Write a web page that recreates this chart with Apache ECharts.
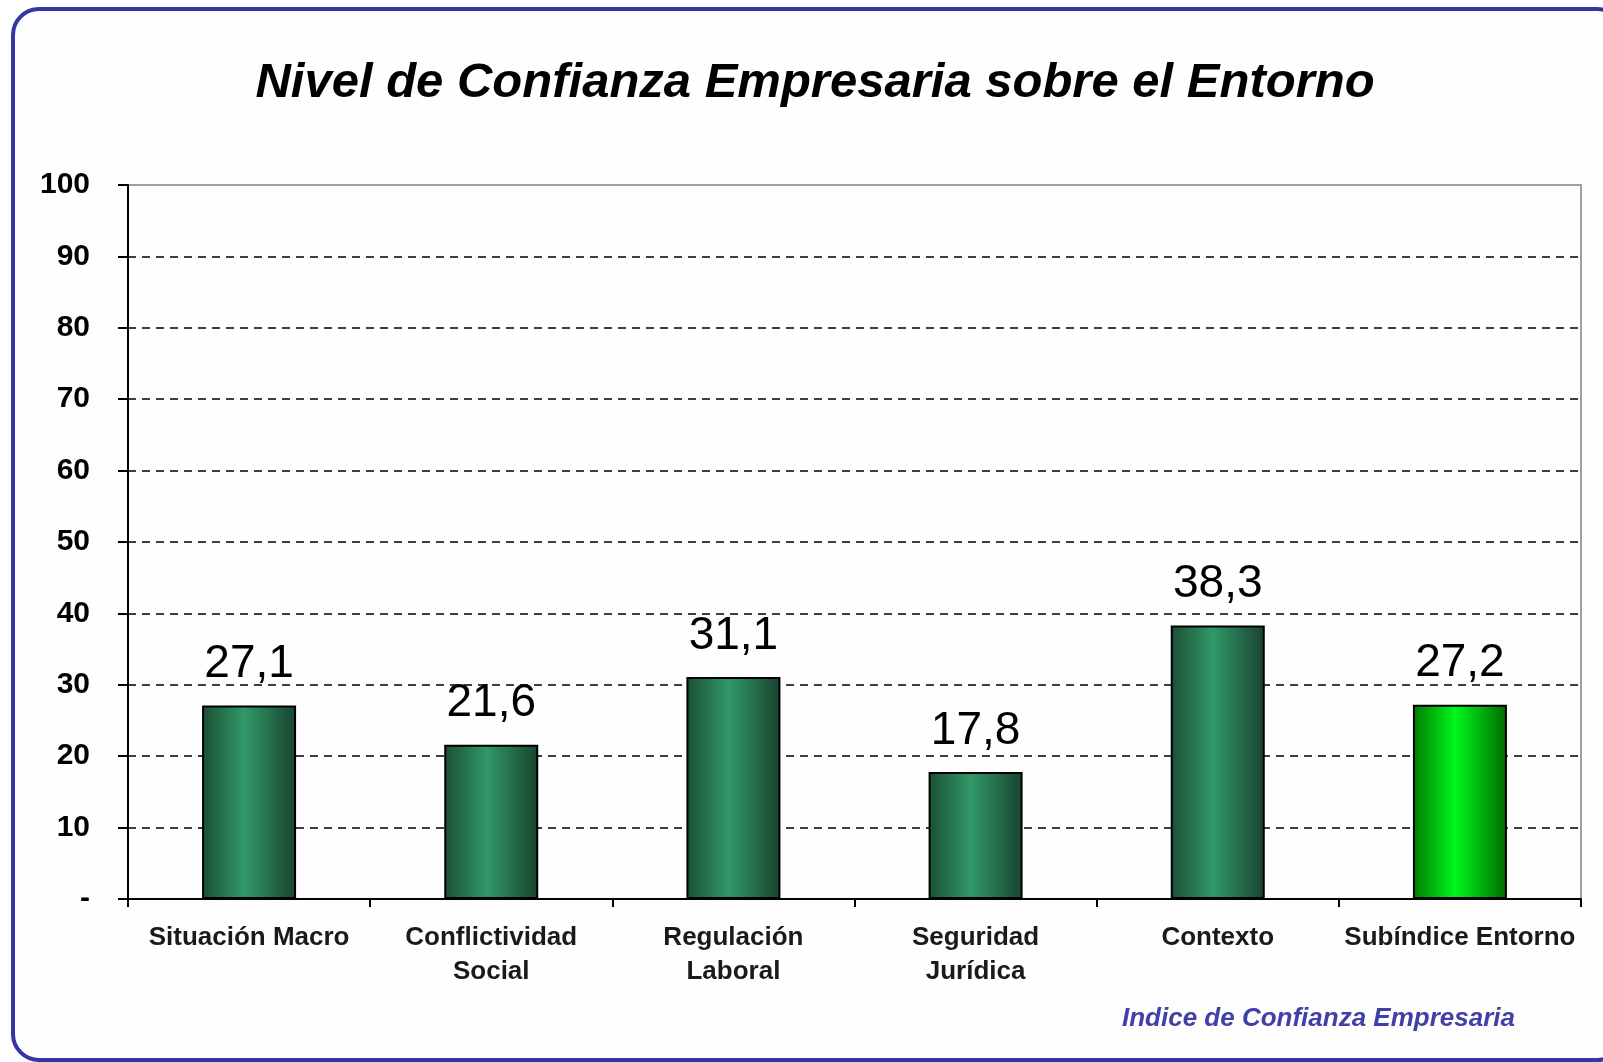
<!DOCTYPE html>
<html>
<head>
<meta charset="utf-8">
<style>
  html, body { margin: 0; padding: 0; background: #fff; }
  #chart { width: 1603px; height: 1062px; }
</style>
<script src="https://cdn.jsdelivr.net/npm/echarts@6/dist/echarts.min.js"></script>
</head>
<body>
<div id="chart"></div>
<script>
const categories = ['Situación Macro', 'Conflictividad\nSocial', 'Regulación\nLaboral', 'Seguridad\nJurídica', 'Contexto', 'Subíndice Entorno'];
const values = [27.1, 21.6, 31.1, 17.8, 38.3, 27.2];
const yTicks = [0, 10, 20, 30, 40, 50, 60, 70, 80, 90, 100];

const chart = echarts.init(document.getElementById('chart'));

const darkGreen = new echarts.graphic.LinearGradient(0, 0, 1, 0, [
  { offset: 0, color: '#1b4f35' },
  { offset: 0.45, color: '#309868' },
  { offset: 1, color: '#19432f' },
]);
const brightGreen = new echarts.graphic.LinearGradient(0, 0, 1, 0, [
  { offset: 0, color: '#007a00' },
  { offset: 0.45, color: '#00f81c' },
  { offset: 1, color: '#006a00' },
]);

chart.setOption({
  backgroundColor: '#fff',
  animation: false,
  graphic: [
    {
      type: 'rect',
      z: -10,
      shape: { x: 13, y: 9, width: 1610, height: 1051, r: 26 },
      style: { fill: '#fefefe', stroke: '#3535a5', lineWidth: 4 },
    },
  ],
  title: [
    {
      text: 'Nivel de Confianza Empresaria sobre el Entorno',
      left: 810,
      top: 54,
      textAlign: 'center',
      textStyle: {
        fontFamily: 'Liberation Sans, Arial, sans-serif',
        fontSize: 49,
        fontWeight: 'bold',
        fontStyle: 'italic',
        color: '#000',
      },
    },
    {
      text: 'Indice de Confianza Empresaria',
      left: 1117,
      top: 1001,
      textStyle: {
        fontFamily: 'Liberation Sans, Arial, sans-serif',
        fontSize: 26,
        fontWeight: 'bold',
        fontStyle: 'italic',
        color: '#4040a8',
      },
    },
  ],
  grid: {
    left: 128,
    top: 185,
    right: 22,
    bottom: 163,
    show: true,
    borderColor: '#a0a0a0',
    borderWidth: 2,
    backgroundColor: 'transparent',
  },
  xAxis: {
    type: 'category',
    data: categories,
    axisLine: { lineStyle: { color: '#000', width: 2 } },
    axisTick: { show: true, length: 8, lineStyle: { color: '#000', width: 2 } },
    axisLabel: {
      margin: 22,
      color: '#1a1a1a',
      fontFamily: 'Liberation Sans, Arial, sans-serif',
      fontSize: 26,
      fontWeight: 'bold',
      lineHeight: 34,
      interval: 0,
    },
  },
  yAxis: {
    type: 'value',
    min: yTicks[0],
    max: yTicks[yTicks.length - 1],
    interval: 10,
    axisLine: { show: true, lineStyle: { color: '#000', width: 2 } },
    axisTick: { show: true, length: 10, lineStyle: { color: '#000', width: 2 } },
    axisLabel: {
      margin: 38,
      color: '#000',
      fontFamily: 'Liberation Sans, Arial, sans-serif',
      fontSize: 30,
      fontWeight: 'bold',
      formatter: v => (v === 0 ? '-' : String(v)),
    },
    splitLine: {
      showMaxLine: false,
      lineStyle: { type: [8, 6], color: '#000', width: 1.5 },
    },
  },
  series: [
    {
      type: 'bar',
      barWidth: 94,
      data: values.map((v, i) => ({
        value: v,
        itemStyle: { color: i === values.length - 1 ? brightGreen : darkGreen },
      })),
      itemStyle: { borderColor: '#000', borderWidth: 2 },
      label: {
        show: true,
        position: 'top',
        distance: 18,
        color: '#000',
        fontFamily: 'Liberation Sans, Arial, sans-serif',
        fontSize: 46,
        formatter: p => p.value.toFixed(1).replace('.', ','),
      },
    },
  ],
});
</script>
</body>
</html>
